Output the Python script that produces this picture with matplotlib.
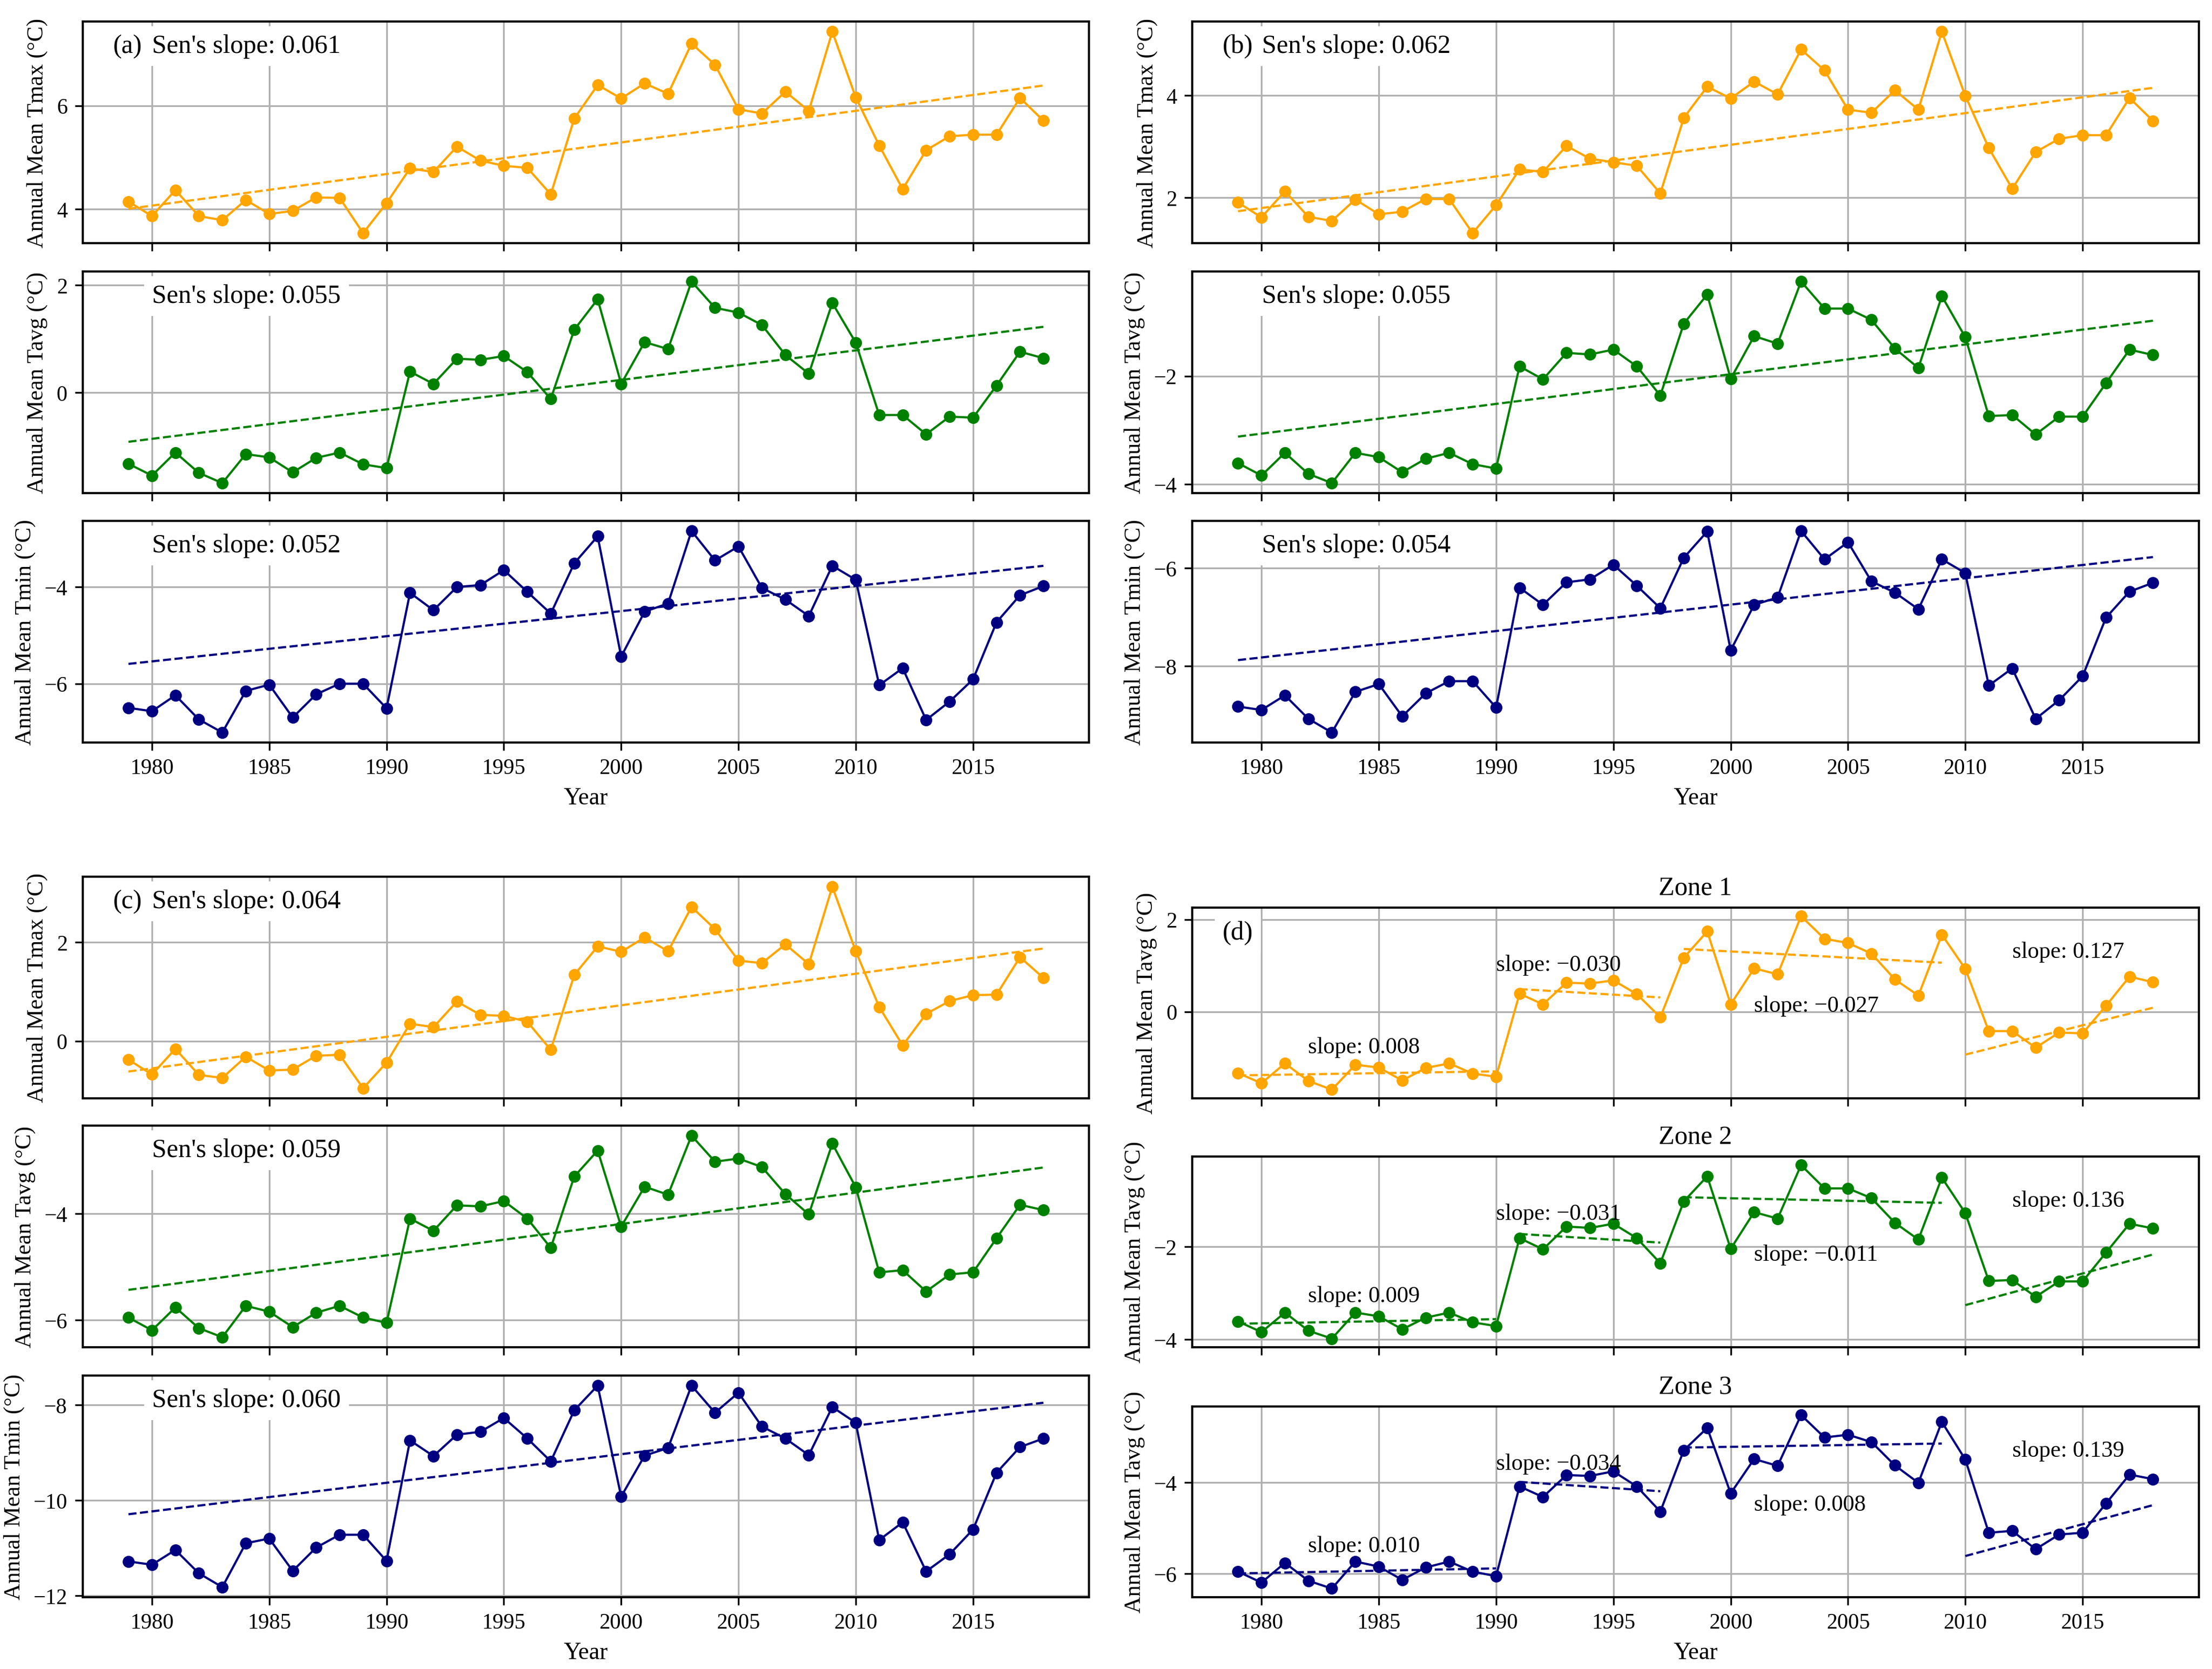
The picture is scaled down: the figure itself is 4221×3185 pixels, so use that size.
import matplotlib
matplotlib.use("Agg")
import matplotlib.pyplot as plt
from matplotlib.ticker import MaxNLocator, MultipleLocator
import numpy as np

plt.rcParams['font.family'] = ['Liberation Serif', 'DejaVu Serif']

# === Data ===
years = list(range(1979, 2019))

zone1_tmax = [4.15, 3.87, 4.37, 3.87, 3.79, 4.18, 3.91, 3.97, 4.23, 4.22, 3.54, 4.12,
              4.79, 4.72, 5.21, 4.94, 4.84, 4.80, 4.29, 5.75, 6.40, 6.14,
              6.43, 6.23, 7.20, 6.79, 5.93, 5.85, 6.27, 5.90, 7.43, 6.16,
              5.23, 4.39, 5.14, 5.41, 5.44, 5.44, 6.15, 5.71]
zone1_tavg = [-1.33, -1.55, -1.12, -1.50, -1.69, -1.15, -1.21, -1.49, -1.22, -1.12, -1.34, -1.41,
              0.39, 0.16, 0.63, 0.61, 0.68, 0.38, -0.12, 1.17, 1.74, 0.16,
              0.94, 0.81, 2.07, 1.58, 1.49, 1.26, 0.70, 0.35, 1.67, 0.93,
              -0.42, -0.42, -0.78, -0.45, -0.47, 0.13, 0.76, 0.64]
zone1_tmin = [-6.50, -6.57, -6.24, -6.74, -7.01, -6.15, -6.02, -6.70, -6.22, -6.00, -6.00, -6.51,
              -4.12, -4.48, -4.00, -3.96, -3.65, -4.10, -4.55, -3.51, -2.95, -5.44,
              -4.51, -4.34, -2.84, -3.45, -3.16, -4.02, -4.26, -4.60, -3.56, -3.85,
              -6.03, -5.68, -6.75, -6.37, -5.91, -4.73, -4.17, -3.98]

zone2_tmax = [1.90, 1.61, 2.12, 1.62, 1.54, 1.96, 1.67, 1.72, 1.97, 1.97, 1.30, 1.85,
              2.55, 2.50, 3.01, 2.76, 2.69, 2.62, 2.08, 3.56, 4.17, 3.94,
              4.27, 4.02, 4.90, 4.49, 3.72, 3.66, 4.10, 3.72, 5.25, 3.99,
              2.97, 2.17, 2.89, 3.15, 3.22, 3.22, 3.95, 3.50]
zone2_tavg = [-3.61, -3.84, -3.42, -3.81, -3.98, -3.42, -3.50, -3.78, -3.53, -3.42, -3.63, -3.71,
              -1.82, -2.06, -1.57, -1.60, -1.51, -1.82, -2.36, -1.03, -0.49, -2.05,
              -1.26, -1.40, -0.25, -0.75, -0.75, -0.96, -1.49, -1.85, -0.52, -1.28,
              -2.74, -2.72, -3.08, -2.75, -2.75, -2.13, -1.51, -1.61]
zone2_tmin = [-8.83, -8.90, -8.60, -9.08, -9.36, -8.53, -8.37, -9.03, -8.56, -8.31, -8.31, -8.85,
              -6.40, -6.75, -6.29, -6.23, -5.93, -6.36, -6.82, -5.79, -5.25, -7.68,
              -6.75, -6.60, -5.24, -5.82, -5.47, -6.27, -6.50, -6.84, -5.82, -6.10,
              -8.40, -8.05, -9.08, -8.70, -8.21, -7.01, -6.48, -6.30]

zone3_tmax = [-0.38, -0.68, -0.16, -0.69, -0.75, -0.32, -0.60, -0.58, -0.30, -0.28, -0.96, -0.44,
              0.35, 0.28, 0.80, 0.53, 0.51, 0.39, -0.18, 1.34, 1.92, 1.81,
              2.10, 1.82, 2.72, 2.27, 1.63, 1.58, 1.96, 1.56, 3.13, 1.82,
              0.69, -0.09, 0.55, 0.81, 0.93, 0.94, 1.70, 1.28]
zone3_tavg = [-5.95, -6.19, -5.76, -6.15, -6.32, -5.73, -5.84, -6.13, -5.86, -5.73, -5.95, -6.05,
              -4.09, -4.32, -3.84, -3.86, -3.76, -4.09, -4.64, -3.30, -2.81, -4.24,
              -3.49, -3.64, -2.53, -3.02, -2.96, -3.12, -3.63, -4.01, -2.68, -3.50,
              -5.10, -5.06, -5.46, -5.14, -5.10, -4.46, -3.83, -3.93]
zone3_tmin = [-11.28, -11.35, -11.04, -11.53, -11.82, -10.90, -10.80, -11.48, -10.99, -10.72, -10.72, -11.27,
              -8.74, -9.07, -8.62, -8.56, -8.27, -8.70, -9.18, -8.11, -7.59, -9.92,
              -9.06, -8.90, -7.59, -8.16, -7.74, -8.45, -8.70, -9.05, -8.04, -8.37,
              -10.83, -10.46, -11.49, -11.13, -10.61, -9.42, -8.88, -8.70]

# Sen's slope and line value at 1979, order: Tmax, Tavg, Tmin
zone1_sen = [0.061, 0.055, 0.052]
zone1_sen_start = [4.01, -0.92, -5.59]
zone2_sen = [0.062, 0.055, 0.054]
zone2_sen_start = [1.73, -3.12, -7.88]
zone3_sen = [0.064, 0.059, 0.060]
zone3_sen_start = [-0.62, -5.43, -10.29]

# Piecewise Tavg trends for panel (d)
seg_first = [1979, 1991, 1998, 2010]
seg_last = [1990, 1997, 2009, 2018]
zone1_seg_slope = [0.008, -0.030, -0.027, 0.127]
zone1_seg_start = [-1.38, 0.49, 1.36, -0.93]
zone2_seg_slope = [0.009, -0.031, -0.011, 0.136]
zone2_seg_start = [-3.66, -1.73, -0.94, -3.26]
zone3_seg_slope = [0.010, -0.034, 0.008, 0.139]
zone3_seg_start = [-5.99, -3.99, -3.24, -5.61]

var_names = ['Tmax', 'Tavg', 'Tmin']
var_colors = ['orange', 'green', 'navy']

# === Figure ===
W, H = 4221, 3186
fig = plt.figure(figsize=(W / 300, H / 300), dpi=300)

left_x, right_x, col_w = 0.0374, 0.539, 0.455
row_bottoms = [0.854, 0.7043, 0.5549]
lower_bottoms = [0.3418, 0.1927, 0.0430]
row_h = 0.1328
zone_h = 0.1143

bbox_white = dict(facecolor='white', edgecolor='none', boxstyle='square,pad=0.3')


def style_axes(ax, last):
    ax.grid(True, color='#b0b0b0', linewidth=0.8)
    ax.xaxis.set_major_locator(MultipleLocator(5))
    ax.yaxis.set_major_locator(MaxNLocator(nbins=3, steps=[1, 2, 5, 10]))
    ax.tick_params(labelsize=10)
    for s in ax.spines.values():
        s.set_linewidth(1.0)
    if last:
        ax.set_xlabel("Year", fontsize=11)
    else:
        ax.tick_params(labelbottom=False)


def trend_panel(x0, bottoms, series, sens, starts, letter):
    yrs = np.array(years)
    for i in range(3):
        ax = fig.add_axes([x0, bottoms[i], col_w, row_h])
        ax.plot(yrs, series[i], color=var_colors[i], marker='o', markersize=4.5, linewidth=1.0)
        ax.plot(yrs, starts[i] + sens[i] * (yrs - yrs[0]), linestyle='--',
                color=var_colors[i], linewidth=1.0)
        ax.set_ylabel(f"Annual Mean {var_names[i]} (°C)", fontsize=10.5)
        if i == 0:
            ax.text(0.03, 0.889, f"({letter})", transform=ax.transAxes, fontsize=12,
                    va='center', ha='left', bbox=bbox_white)
        ax.text(0.069, 0.889, f"Sen's slope: {sens[i]:.3f}", transform=ax.transAxes,
                fontsize=12, va='center', ha='left', bbox=bbox_white)
        style_axes(ax, i == 2)


trend_panel(left_x, row_bottoms, [zone1_tmax, zone1_tavg, zone1_tmin], zone1_sen, zone1_sen_start, 'a')
trend_panel(right_x, row_bottoms, [zone2_tmax, zone2_tavg, zone2_tmin], zone2_sen, zone2_sen_start, 'b')
trend_panel(left_x, lower_bottoms, [zone3_tmax, zone3_tavg, zone3_tmin], zone3_sen, zone3_sen_start, 'c')

# Panel (d): Tavg by zone with piecewise trends
zone_tavg = [zone1_tavg, zone2_tavg, zone3_tavg]
zone_slopes = [zone1_seg_slope, zone2_seg_slope, zone3_seg_slope]
zone_starts = [zone1_seg_start, zone2_seg_start, zone3_seg_start]
label_pos = [(0.115, 0.27), (0.302, 0.70), (0.558, 0.486), (0.815, 0.768)]

for i in range(3):
    ax = fig.add_axes([right_x, lower_bottoms[i], col_w, zone_h])
    ax.plot(years, zone_tavg[i], color=var_colors[i], marker='o', markersize=4.5, linewidth=1.0)
    for k in range(4):
        seg = np.arange(seg_first[k], seg_last[k] + 1)
        ax.plot(seg, zone_starts[i][k] + zone_slopes[i][k] * (seg - seg_first[k]),
                linestyle='--', color=var_colors[i], linewidth=1.0)
        lbl = f"slope: {zone_slopes[i][k]:.3f}".replace('-', '\u2212')
        ax.text(label_pos[k][0], label_pos[k][1], lbl, transform=ax.transAxes,
                fontsize=10.5, va='center', ha='left')
    ax.set_title(f"Zone {i + 1}", fontsize=12)
    ax.set_ylabel("Annual Mean Tavg (°C)", fontsize=10.5)
    if i == 0:
        ax.text(0.03, 0.867, "(d)", transform=ax.transAxes, fontsize=12,
                va='center', ha='left', bbox=bbox_white)
    style_axes(ax, i == 2)

fig.savefig("out.png", dpi=300)
